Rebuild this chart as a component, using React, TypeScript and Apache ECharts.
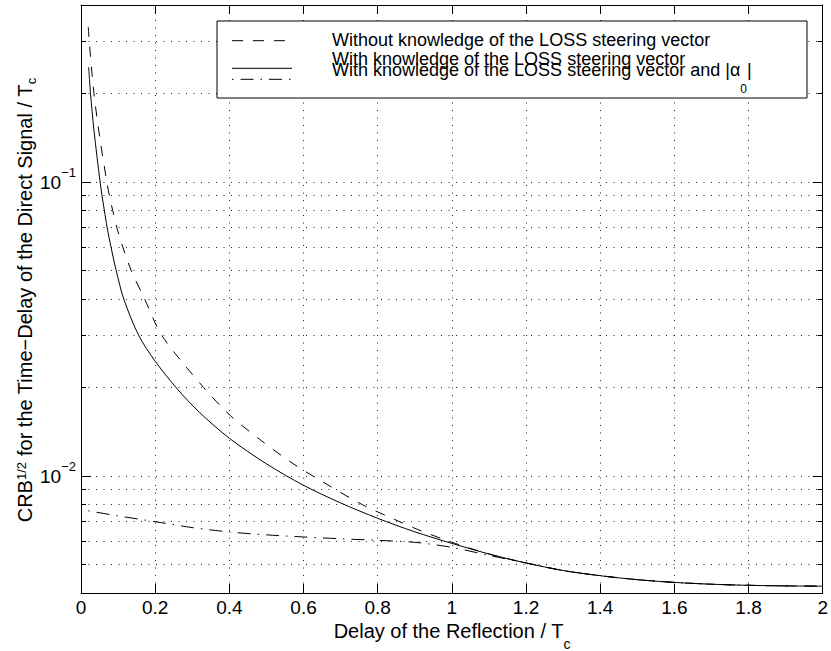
import React, { useEffect, useRef } from 'react';
import * as echarts from 'echarts';

const FONT = '"Liberation Sans", Arial, Helvetica, sans-serif';

// Delay of the reflection / Tc  (x) and CRB^{1/2} (y) for each curve
const delayWithout = [0.0196, 0.0223, 0.0349, 0.0512, 0.0697, 0.0764, 0.0855, 0.0966, 0.1129, 0.1354, 0.1716, 0.2185, 0.3306, 0.404, 0.486, 0.5745, 0.663, 0.757, 0.855, 0.904, 1.0, 1.1, 1.2, 1.3, 1.4, 1.5, 1.6, 1.7, 1.8, 1.9, 2.0];
const crbWithout = [0.337, 0.3, 0.2, 0.14, 0.1, 0.09, 0.08, 0.07, 0.06, 0.05, 0.04, 0.03, 0.02, 0.016, 0.0132, 0.01096, 0.00937, 0.00801, 0.00703, 0.00661, 0.00595, 0.00543, 0.00506, 0.00477, 0.00458, 0.00444, 0.004346, 0.004285, 0.004248, 0.004229, 0.004219];

const delayWith = [0.0206, 0.0257, 0.0349, 0.0515, 0.0566, 0.063, 0.0705, 0.081, 0.0949, 0.1153, 0.156, 0.2, 0.259, 0.319, 0.4, 0.5, 0.6, 0.7, 0.8, 0.9, 1.0, 1.1, 1.2, 1.3, 1.4, 1.5, 1.6, 1.7, 1.8, 1.9, 2.0];
const crbWith = [0.246, 0.2, 0.15, 0.1, 0.09, 0.08, 0.07, 0.06, 0.05, 0.04, 0.03, 0.02458, 0.01981, 0.01648, 0.01344, 0.011, 0.0093, 0.0081, 0.00718, 0.00646, 0.0059, 0.00543, 0.00506, 0.00477, 0.00458, 0.00444, 0.004346, 0.004285, 0.004248, 0.004229, 0.004219];

const delayWithAlpha = [0.0196, 0.1, 0.2, 0.3, 0.4, 0.5, 0.6, 0.7, 0.8, 0.9, 1.0, 1.1, 1.2, 1.3, 1.4, 1.5, 1.6, 1.7, 1.8, 1.9, 2.0];
const crbWithAlpha = [0.007612, 0.007318, 0.006993, 0.006677, 0.006452, 0.006307, 0.006204, 0.006117, 0.006042, 0.005948, 0.005718, 0.00537, 0.005062, 0.00477, 0.00458, 0.00444, 0.004346, 0.004285, 0.004248, 0.004229, 0.004219];

const legendLabels = [
  'Without knowledge of the LOSS steering vector',
  'With knowledge of the LOSS steering vector',
  'With knowledge of the LOSS steering vector and |α{sub|0}|',
];

const xMin = 0;
const xMax = 2;
const xStep = 0.2;
const yMin = 0.004;
const yMax = 0.4;

const DOTTED = [1, 6.5];
const DASHED = [10, 10];
const DASHDOT = [1.5, 7, 13, 7];

const pairs = (xs: number[], ys: number[]) => xs.map((x, i) => [x, ys[i]]);

export default function App() {
  const ref = useRef<HTMLDivElement>(null);

  useEffect(() => {
    if (!ref.current) return;
    const chart = echarts.init(ref.current, undefined, { renderer: 'svg' });

    const axisLineStyle = { color: '#000', width: 1 };
    const gridStyle = { color: '#222', width: 1, type: DOTTED };

    const yLabelFormatter = (v: number) => {
      const e = Math.log10(v);
      const r = Math.round(e);
      if (Math.abs(e - r) > 1e-6) return '';
      return `{b|10}{s|${r < 0 ? '−' : ''}${Math.abs(r)}}`;
    };

    const lineSeries = (xs: number[], ys: number[], type: any, name: string) => ({
      name,
      type: 'line',
      data: pairs(xs, ys),
      showSymbol: false,
      symbol: 'none',
      smooth: 0.3,
      silent: true,
      z: 5,
      lineStyle: { color: '#000', width: 1, type },
    });

    const legendRows = [
      { lineY: 40.7, textY: 39.5, dash: [11, 10] },
      { lineY: 68.3, textY: 58.7, dash: null },
      { lineY: 79.3, textY: 69.7, dash: DASHDOT },
    ];

    const graphic: any[] = [
      {
        type: 'rect',
        z: 100,
        shape: { x: 217, y: 21, width: 590, height: 77 },
        style: { fill: '#fff', stroke: '#000', lineWidth: 1 },
      },
    ];
    legendRows.forEach((row, i) => {
      graphic.push({
        type: 'line',
        z: 101,
        shape: { x1: 232, y1: row.lineY, x2: 292, y2: row.lineY },
        style: { stroke: '#000', lineWidth: 1, lineDash: row.dash || undefined },
      });
      graphic.push({
        type: 'text',
        z: 101,
        x: 332,
        y: row.textY,
        style: {
          text: legendLabels[i],
          fontFamily: FONT,
          fontSize: 18,
          fill: '#000',
          align: 'left',
          verticalAlign: 'middle',
          rich: {
            sub: { fontFamily: FONT, fontSize: 12, fill: '#000', padding: [38, 0, 0, 0] },
          },
        },
      });
    });
    graphic.push({
      type: 'text',
      z: 101,
      x: 452,
      y: 631,
      style: {
        text: 'Delay of the Reflection / T{sub|c}',
        fontFamily: FONT,
        fontSize: 20,
        fill: '#000',
        align: 'center',
        verticalAlign: 'middle',
        rich: { sub: { fontFamily: FONT, fontSize: 14, fill: '#000', padding: [26, 0, 0, 0] } },
      },
    });
    graphic.push({
      type: 'text',
      z: 101,
      x: 25,
      y: 300,
      rotation: Math.PI / 2,
      style: {
        text: 'CRB{sup|1/2} for the Time−Delay of the Direct Signal / T{sub|c}',
        fontFamily: FONT,
        fontSize: 20,
        fill: '#000',
        align: 'center',
        verticalAlign: 'middle',
        rich: {
          sup: { fontFamily: FONT, fontSize: 13, fill: '#000', padding: [0, 0, 8, 0] },
          sub: { fontFamily: FONT, fontSize: 13, fill: '#000', padding: [12, 0, 0, 0] },
        },
      },
    });

    chart.setOption({
      animation: false,
      backgroundColor: '#fff',
      grid: { left: 81, top: 5, width: 746, height: 588, containLabel: false },
      xAxis: [
        {
          type: 'value',
          min: xMin,
          max: xMax,
          interval: xStep,
          position: 'bottom',
          axisLine: { show: true, onZero: false, lineStyle: axisLineStyle },
          axisTick: { show: true, inside: true, length: 9, lineStyle: axisLineStyle },
          axisLabel: { show: true, margin: 5, fontSize: 19, fontFamily: FONT, color: '#000' },
          splitLine: { show: true, lineStyle: gridStyle },
        },
        {
          type: 'value',
          min: xMin,
          max: xMax,
          interval: xStep,
          position: 'top',
          axisLine: { show: true, onZero: false, lineStyle: axisLineStyle },
          axisTick: { show: true, inside: true, length: 9, lineStyle: axisLineStyle },
          axisLabel: { show: false },
          splitLine: { show: false },
        },
      ],
      yAxis: [
        {
          type: 'log',
          logBase: 10,
          min: yMin,
          max: yMax,
          position: 'left',
          axisLine: { show: true, onZero: false, lineStyle: axisLineStyle },
          axisTick: { show: true, inside: true, length: 10, lineStyle: axisLineStyle },
          minorTick: { show: true, splitNumber: 9, length: 5, lineStyle: axisLineStyle },
          axisLabel: {
            show: true,
            margin: 5,
            formatter: yLabelFormatter,
            rich: {
              b: { fontFamily: FONT, fontSize: 19, color: '#000' },
              s: { fontFamily: FONT, fontSize: 13, color: '#000', padding: [0, 0, 19, 0] },
            },
          },
          splitLine: { show: true, lineStyle: gridStyle },
          minorSplitLine: { show: true, lineStyle: gridStyle },
        },
        {
          type: 'log',
          logBase: 10,
          min: yMin,
          max: yMax,
          position: 'right',
          axisLine: { show: true, onZero: false, lineStyle: axisLineStyle },
          axisTick: { show: true, inside: true, length: 10, lineStyle: axisLineStyle },
          minorTick: { show: true, splitNumber: 9, length: 5, lineStyle: axisLineStyle },
          axisLabel: { show: false },
          splitLine: { show: false },
        },
      ],
      series: [
        lineSeries(delayWithout, crbWithout, DASHED, 'without'),
        lineSeries(delayWith, crbWith, 'solid', 'with'),
        lineSeries(delayWithAlpha, crbWithAlpha, DASHDOT, 'withAlpha'),
      ],
      graphic,
    });

    return () => chart.dispose();
  }, []);

  return (
    <div
      ref={ref}
      style={{ position: 'absolute', left: 0, top: 0, width: 831, height: 651, background: '#fff' }}
    />
  );
}
